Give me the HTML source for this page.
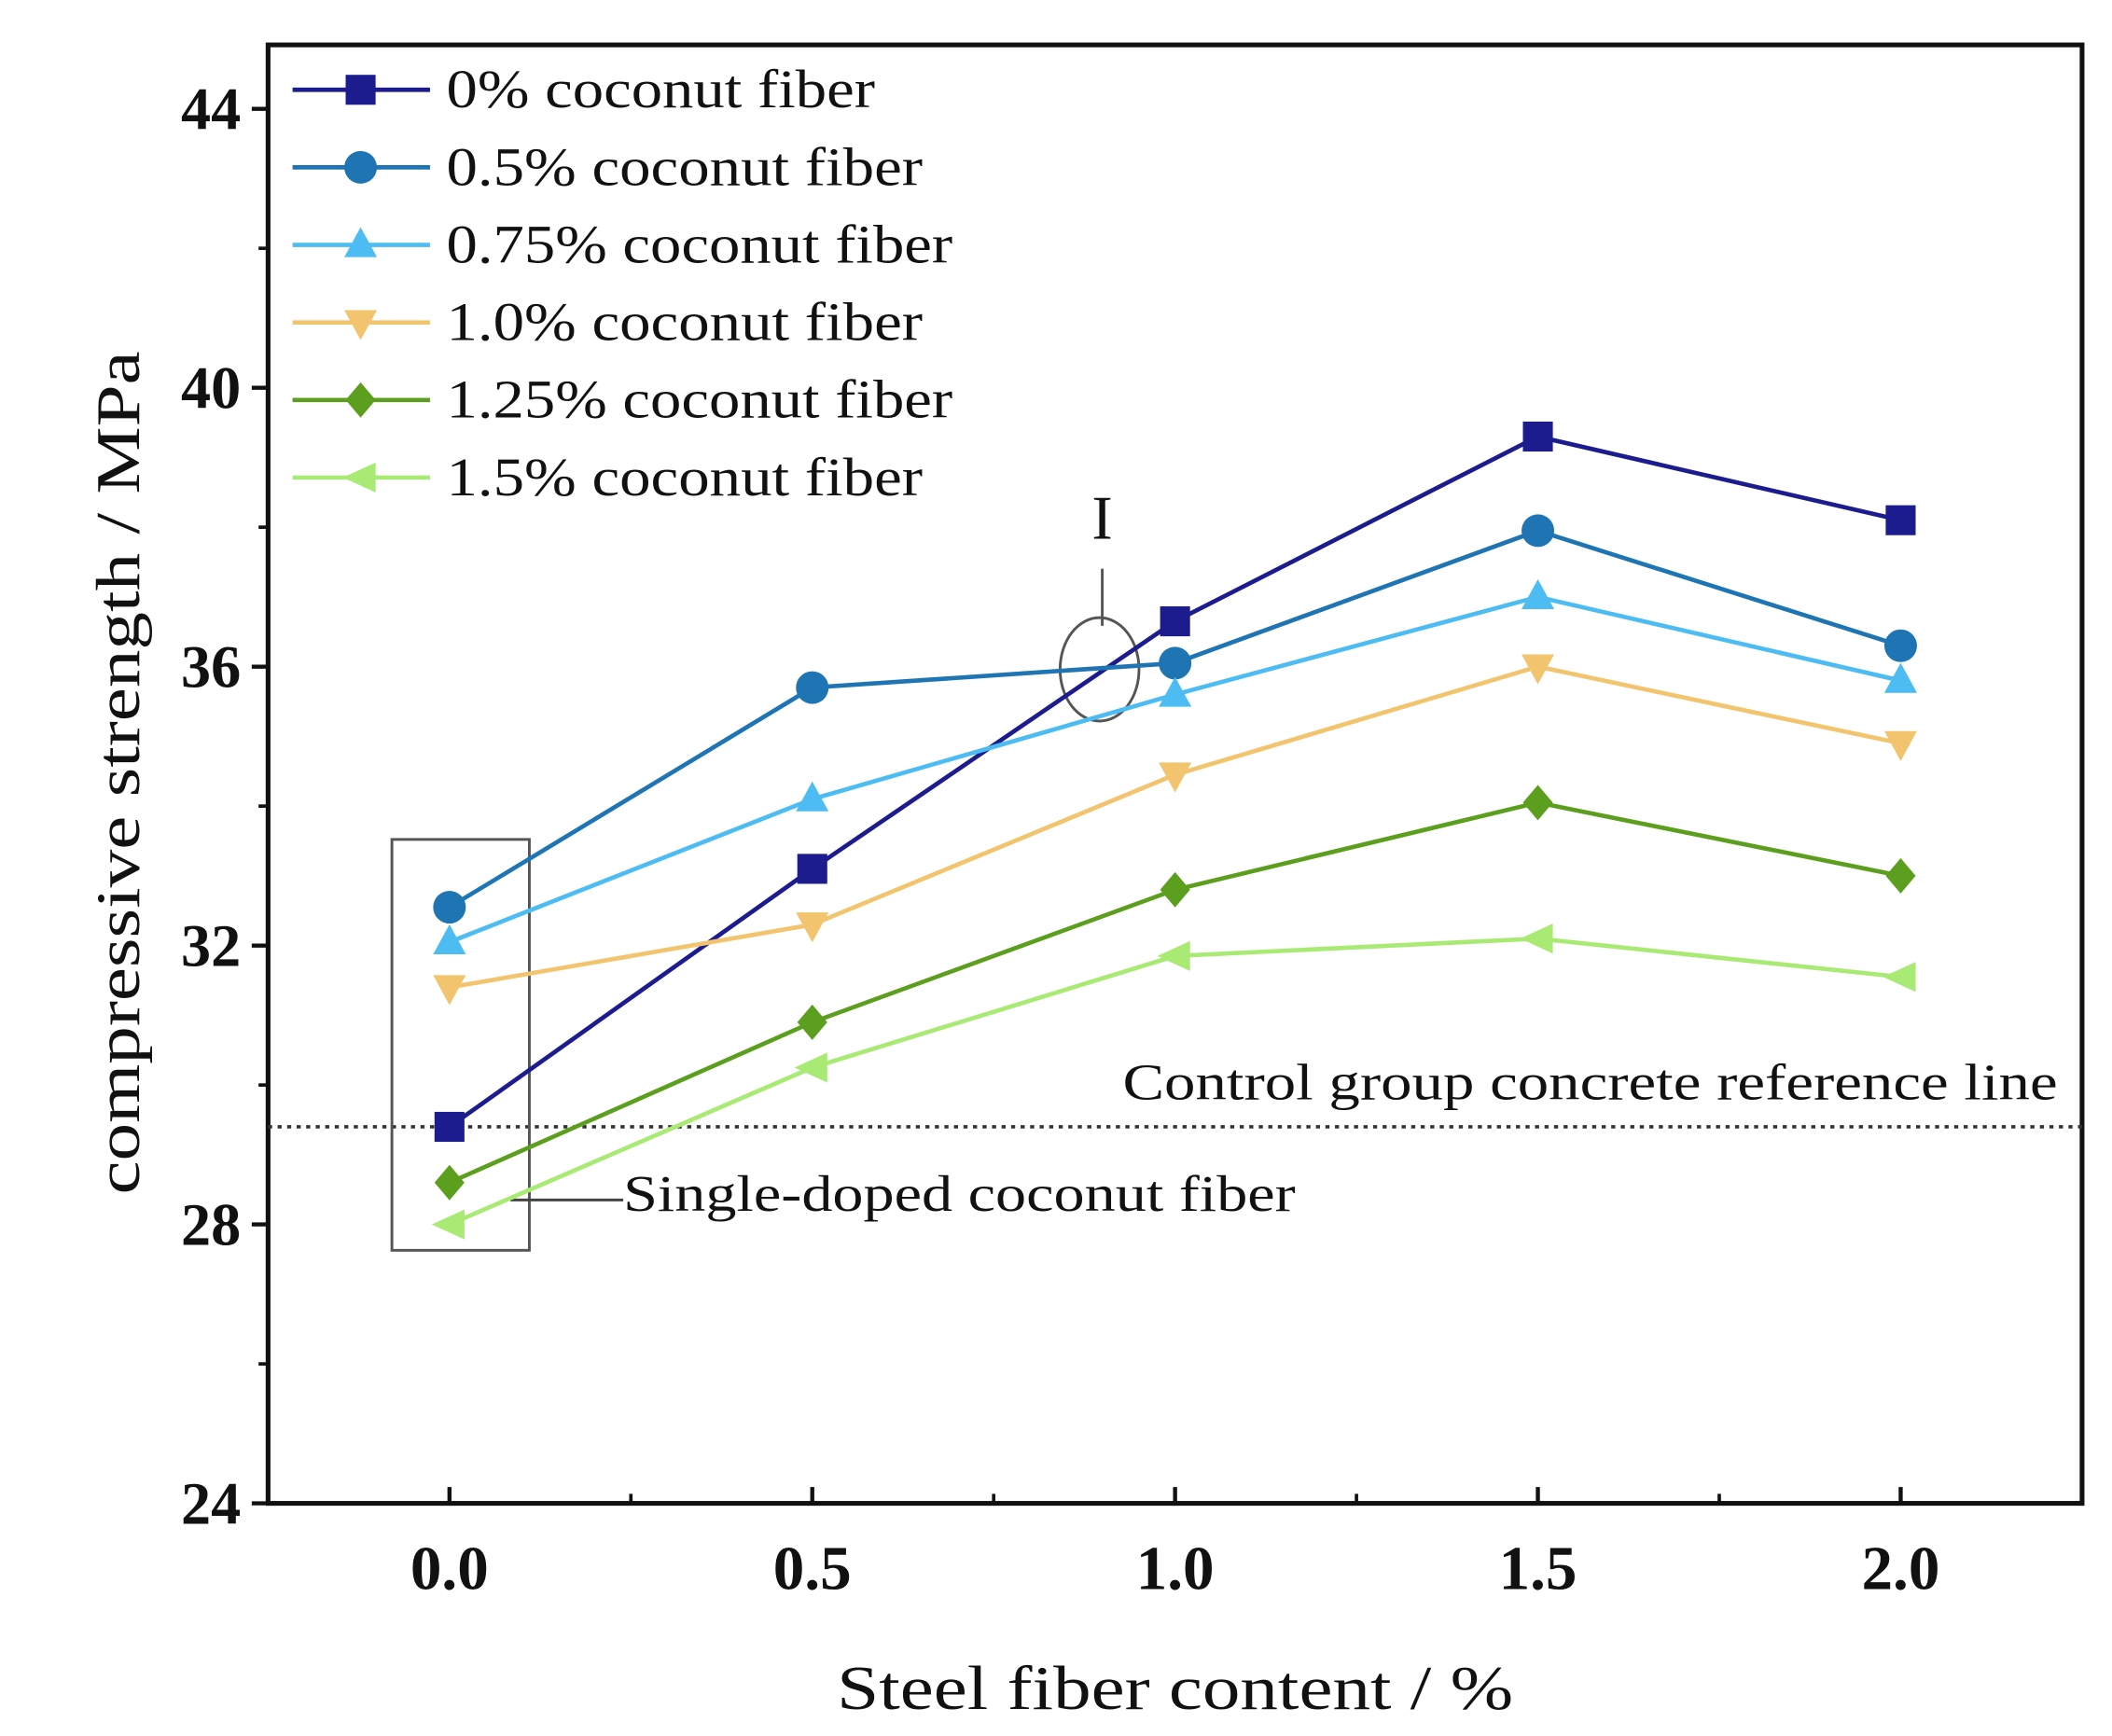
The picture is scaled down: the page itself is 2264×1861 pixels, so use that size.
<!DOCTYPE html>
<html><head><meta charset="utf-8"><style>
html,body{margin:0;padding:0;background:#fff;}
svg{display:block;}
text{font-family:"Liberation Serif",serif;}
</style></head>
<body>
<svg id="chart" width="2264" height="1861" viewBox="0 0 1552 1276" preserveAspectRatio="none" xmlns="http://www.w3.org/2000/svg">
<g id="plot"></g>
</svg>
<script>
const xValues = [0, 0.5, 1.0, 1.5, 2.0];
const seriesNames = ["0% coconut fiber","0.5% coconut fiber","0.75% coconut fiber","1.0% coconut fiber","1.25% coconut fiber","1.5% coconut fiber"];
const s0 = [29.4, 33.1, 36.65, 39.3, 38.1];
const s05 = [32.55, 35.7, 36.05, 37.95, 36.3];
const s075 = [32.05, 34.1, 35.6, 37.0, 35.8];
const s10 = [31.4, 32.3, 34.45, 36.0, 34.9];
const s125 = [28.6, 30.9, 32.8, 34.05, 33.0];
const s15 = [28.0, 30.25, 31.85, 32.1, 31.55];
const referenceValue = 29.4;
const yTicks = [24, 28, 32, 36, 40, 44];
const yMinorTicks = [26, 30, 34, 38, 42];
const xTicks = [0, 0.5, 1.0, 1.5, 2.0];
const xTickLabels = ["0.0","0.5","1.0","1.5","2.0"];
const xMinorTicks = [0.25, 0.75, 1.25, 1.75];

const NS = "http://www.w3.org/2000/svg";
const L = 197, R = 1530, T = 33, B = 1105;
const xMin = -0.25, xMax = 2.25;
function sx(v){ return L + (v - xMin) / (xMax - xMin) * (R - L); }
function sy(v){ return 1105 - (v - 24) * 51.25; }
const g = document.getElementById('plot');
function mk(tag, attrs, parent){
  const e = document.createElementNS(NS, tag);
  for (const k in attrs) e.setAttribute(k, attrs[k]);
  (parent || g).appendChild(e);
  return e;
}
function marker(type, x, y, color, parent){
  const s = 11;
  let e;
  if (type === 'square') e = mk('rect', {x:x-s, y:y-s, width:2*s, height:2*s, fill:color}, parent);
  else if (type === 'circle') e = mk('circle', {cx:x, cy:y, r:s+1, fill:color}, parent);
  else if (type === 'up') e = mk('polygon', {points:`${x},${y-s-2} ${x-s-1},${y+s-2} ${x+s+1},${y+s-2}`, fill:color}, parent);
  else if (type === 'down') e = mk('polygon', {points:`${x},${y+s+2} ${x-s-1},${y-s+2} ${x+s+1},${y-s+2}`, fill:color}, parent);
  else if (type === 'diamond') e = mk('polygon', {points:`${x},${y-s-2} ${x+s},${y} ${x},${y+s+2} ${x-s},${y}`, fill:color}, parent);
  else e = mk('polygon', {points:`${x-s-2},${y} ${x+s},${y-s} ${x+s},${y+s}`, fill:color}, parent);
  return e;
}

const frame = mk('rect', {x:L, y:T, width:R-L, height:B-T, fill:'none', stroke:'#111', 'stroke-width':3.5});



yTicks.forEach(v => {
  const y = sy(v);
  const t = mk('line', {x1:L-12, y1:y, x2:L, y2:y, stroke:'#111', 'stroke-width':3});
  
  
  const lab = mk('text', {x:L-20, y:y+15, 'text-anchor':'end', 'font-size':44, 'font-weight':'bold', fill:'#111'});
  lab.textContent = v;
  
  
});
yMinorTicks.forEach(v => {
  const t = mk('line', {x1:L-7, y1:sy(v), x2:L, y2:sy(v), stroke:'#111', 'stroke-width':2.5});
  
  
});
xTicks.forEach((v, i) => {
  const x = sx(v);
  const t = mk('line', {x1:x, y1:B, x2:x, y2:B-12, stroke:'#111', 'stroke-width':3});
  
  
  const lab = mk('text', {x:x, y:1168, 'text-anchor':'middle', 'font-size':46, 'font-weight':'bold', fill:'#111'});
  lab.textContent = xTickLabels[i];
  
  
});
xMinorTicks.forEach(v => {
  const t = mk('line', {x1:sx(v), y1:B, x2:sx(v), y2:B-7, stroke:'#111', 'stroke-width':2.5});
  
  
});

const xt = mk('text', {x:615, y:1256, 'font-size':46, fill:'#111', textLength:497, lengthAdjust:'spacingAndGlyphs'});
xt.textContent = 'Steel fiber content / %';


const yt = mk('text', {x:0, y:0, 'font-size':46, fill:'#111', transform:'translate(102,878) rotate(-90)', textLength:620, lengthAdjust:'spacingAndGlyphs'});
yt.textContent = 'compressive strength / MPa';



const ref = mk('line', {x1:L, y1:sy(referenceValue), x2:R, y2:sy(referenceValue), stroke:'#333', 'stroke-width':2.5, 'stroke-dasharray':'3,4'});


const refLab = mk('text', {x:825, y:808, 'font-size':38, fill:'#111', textLength:687, lengthAdjust:'spacingAndGlyphs'});
refLab.textContent = 'Control group concrete reference line';



const box = mk('rect', {x:288, y:617, width:101, height:302, fill:'none', stroke:'#555', 'stroke-width':2});


const ann = mk('line', {x1:375, y1:882, x2:458, y2:882, stroke:'#444', 'stroke-width':2});


const annLab = mk('text', {x:458, y:890, 'font-size':38, fill:'#111', textLength:494, lengthAdjust:'spacingAndGlyphs'});
annLab.textContent = 'Single-doped coconut fiber';



const ell = mk('ellipse', {cx:808, cy:492, rx:29, ry:38, fill:'none', stroke:'#555', 'stroke-width':2});


const il = mk('line', {x1:810, y1:418, x2:810, y2:460, stroke:'#555', 'stroke-width':2});


const iLab = mk('text', {x:810, y:396, 'text-anchor':'middle', 'font-size':46, fill:'#111'});
iLab.textContent = 'I';



const allSeries = [s0, s05, s075, s10, s125, s15];
const colors = ['#1c1c8f', '#1f75b3', '#4cbcf2', '#f2c46e', '#5c9f1f', '#a9ea74'];
const markers = ['square', 'circle', 'up', 'down', 'diamond', 'left'];
const seriesKeys = ['0', '0-5', '0-75', '1-0', '1-25', '1-5'];
allSeries.forEach((vals, si) => {
  const sg = mk('g', {});
  
  
  const pts = vals.map((v, i) => sx(xValues[i]) + ',' + sy(v)).join(' ');
  const pl = mk('polyline', {points:pts, fill:'none', stroke:colors[si], 'stroke-width':3.2}, sg);
  
  
  vals.forEach((v, i) => {
    const m = marker(markers[si], sx(xValues[i]), sy(v), colors[si], sg);
    
    
  });
});

const legendWidths = [315, 350, 372, 350, 372, 350];
const lg = mk('g', {});


seriesNames.forEach((name, i) => {
  const y = 66 + i * 57;
  const eg = mk('g', {}, lg);
  
  
  mk('line', {x1:215, y1:y, x2:316, y2:y, stroke:colors[i], 'stroke-width':3.2}, eg);
  marker(markers[i], 265, y, colors[i], eg);
  const t = mk('text', {x:328, y:y+13, 'font-size':40, fill:'#111', textLength:legendWidths[i], lengthAdjust:'spacingAndGlyphs'}, eg);
  t.textContent = name;
});
</script>
</body></html>
